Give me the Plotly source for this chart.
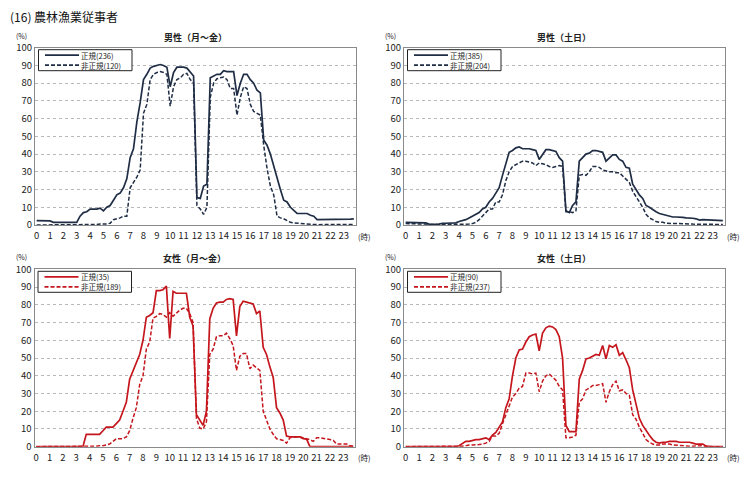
import plotly.graph_objects as go

# ---- data (15-minute steps, 96 per series) ----
hours = [h / 4 for h in range(96)]
hour_ticks = list(range(24))

m_wd_reg = [2.5,2.5,2.5,2.5, 2.3,1.5,1.5,1.5, 1.5,1.5,1.2,1.2, 1.5,5,7,7.5,
            9,9,9,9.5, 8,10,11,14, 17,18,21,26, 38,43,58,69,
            82,85,88.5,89.5, 90,90.5,90,89, 78,86,89,89, 89,88.5,86,84,
            15.5,15,22,23, 83,84,85,85, 87,86.5,86.5,86.5, 73,80,85,85,
            82,80,76,74.5, 48,45,40,33, 26,20,14,13, 10,8,6.5,6.5,
            6.5,6.5,5.5,5, 3,3,3,3, 3,3,3,3, 3,3.2,3.3,3.5]
m_wd_non = [0,0,0,0, 0,0,0,0, 0,0,0,0, 0,0,0,0,
            0,0,0.3,0.5, 0.5,0.5,1,3, 3.5,4,5,5, 21,24,27,31,
            63,68,82,85, 86,86.5,86,85, 67,78,82,83, 85,85.5,82,80,
            11,9,6,10, 72,80,82.5,83, 83.5,82,77,77, 62,72,78,77,
            68,64,63,62, 45,32,22,17, 5,4,3.5,2.5, 1.5,1.2,1,1,
            0.5,0.5,0.5,0.3, 0.2,0.3,0.3,0.3, 0.3,0.3,0.3,0.3, 0.3,0.3,0.3,0.3]
m_we_reg = [1.5,1.5,1.5,1.5, 1.5,1.5,1.2,0.5, 0.3,0.3,0.5,1, 1,1,1,1.2,
            2,2.5,3,4, 5,6,7,9, 10,13,15,18, 21,28,34,41,
            42,43.5,44,43, 43,43,42.5,42, 37,40,42.5,42.5, 42,41.5,38,36,
            8,7,11,13, 36,38,40,40.5, 42,42,41.5,41, 36,37.5,39.5,39.5,
            37,36,32.5,32, 23,20,17,15, 11,10,8.5,7.5, 6.5,6,5.5,5,
            4.5,4.5,4.5,4.3, 4,4,3.8,3.5, 2.8,3,2.9,2.8, 2.7,2.6,2.5,2.5]
m_we_non = [0.8,0.8,0.8,0.8, 0.8,0.8,0.5,0.3, 0.2,0.2,0.2,0.3, 0.3,0.3,0.3,0.4,
            0.5,0.5,0.5,0.5, 0.8,1.5,3,5, 7,9,9,13, 13,17,25,30,
            33,34,35,36, 36,35.5,35,33.5, 35,34.5,34,33, 32.5,33,33.5,33,
            7.5,7.5,7,8, 28,28.5,28,30, 33,33,32.5,31, 30.5,30,30,29.5,
            29.5,27.5,26,24, 19,16,13,10, 6,4,3,2, 1.5,1.5,1,1,
            0.8,0.8,0.8,0.8, 0.8,0.6,0.5,0.5, 0.3,0.3,0.3,0.3, 0.3,0.3,0.3,0.3]
f_wd_reg = [0,0,0,0, 0,0,0,0, 0,0,0,0, 0,0,0,7,
            7,7,7,7, 9,11,11,11, 13,15,20,25, 38,43,48,52,
            60,73,74,75.5, 88,88,88.5,90.5, 61,87.5,86.5,86.5, 86.5,86.5,73,68,
            18,15,12,20, 72,78,81,81.5, 81.5,83,83.5,83, 62.5,79,82,81.5,
            81,80.5,75,76.5, 56,52,45,39, 22,19,15,6, 5.5,5.5,5.5,5.5,
            4.5,4.3,0,0, 0,0,0,0, 0,0,0,0, 0,0,0,0]
f_wd_non = [0,0,0,0, 0,0,0,0, 0,0,0,0, 0,0,0,0,
            0,0,0.3,0.5, 0.5,1,1.5,3, 4.5,4.5,4.5,5.5, 9,16,22,35,
            40,55,59,72.5, 73.5,75,74.5,73, 75.5,73.5,75.5,77, 78,78,75,70,
            16,10.5,10,14, 52,55,62,62.5, 62.5,64,61,57, 43,51,52.5,52.5,
            44,46,44.5,43, 20,15,10,7, 4.5,4,3.5,2, 5,5.5,5.5,5.5,
            5,4.5,4,3, 5,5,4.8,4.5, 4,3.5,1.5,1.5, 1.5,1.5,0.5,0.3]
f_we_reg = [0,0,0,0, 0,0,0,0, 0,0,0,0, 0,0,0,0,
            0.5,2,3,3, 3.5,4,4,4.5, 5,4,6.5,8, 11,14,22,27,
            40,50,54.5,55, 59,62,63,63.5, 54,64,67,68, 67.5,66,62,50,
            12,8.5,8.5,8.5, 38,43,49.5,50, 51,52,51.5,57, 49.5,57,56,57.5,
            51.5,53,49,44.5, 32,23,16,12, 9,6.5,4,2.5, 2,2.5,2.5,3,
            3,3,2.5,2.5, 2.5,2.5,2,1.5, 1.5,1.5,0.3,0, 0,0,0,0]
f_we_non = [0,0,0,0, 0,0,0,0, 0,0,0,0, 0,0,0,0,
            0,0.3,0.5,1, 1,1,1.2,1.5, 2,3,6,6, 7.5,13,18,23,
            28,30,33,34, 41.5,41.5,41,41.5, 31,37,40,41, 39,37.5,34,32,
            5,5,5.5,6.5, 25,27,32,33, 34.5,34.5,35,35.5, 25,31,35,37,
            31.5,32,30,29, 18,15.5,11,7, 4,2.5,1.5,1, 1,1.5,1.5,1.5,
            1,0.8,0.5,0.4, 0.3,0.3,0.3,0.4, 0.5,0.5,0,0, 0,0,0,0]

panels = [
    dict(title="男性（月～金）", reg=m_wd_reg, non=m_wd_non, n_reg="正規(236)", n_non="非正規(120)", male=True),
    dict(title="男性（土日）", reg=m_we_reg, non=m_we_non, n_reg="正規(385)", n_non="非正規(204)", male=True),
    dict(title="女性（月～金）", reg=f_wd_reg, non=f_wd_non, n_reg="正規(35)", n_non="非正規(189)", male=False),
    dict(title="女性（土日）", reg=f_we_reg, non=f_we_non, n_reg="正規(90)", n_non="非正規(237)", male=False),
]

W, H = 750, 477
OFF = 8  # page body margin of the browser
FONT = "Noto Sans CJK JP, Noto Sans, sans-serif"
MALE_C = "#1f2d45"
FEMALE_C = "#c4161c"


def X(px):
    return (px - OFF) / W


def Y(py):
    return 1 - (py - OFF) / H


# pixel boxes on screen (left, right, top, bottom)
boxes = [(35, 355.5, 47.7, 225), (404, 724.5, 47.7, 225),
         (34.5, 355, 269.3, 446.7), (404, 724.5, 269.3, 446.7)]

fig = go.Figure()
layout = dict(width=W, height=H, margin=dict(l=0, r=0, t=0, b=0, autoexpand=False),
              paper_bgcolor="white", plot_bgcolor="white",
              font=dict(family=FONT, size=9, color="#222"), showlegend=False)
annotations = []
shapes = []

for i, p in enumerate(panels):
    k = "" if i == 0 else str(i + 1)
    xa, ya = "x" + k, "y" + k
    color = MALE_C if p["male"] else FEMALE_C
    fig.add_trace(go.Scatter(x=hours, y=p["reg"], mode="lines", name=p["n_reg"],
                             line=dict(color=color, width=1.7), xaxis=xa, yaxis=ya))
    fig.add_trace(go.Scatter(x=hours, y=p["non"], mode="lines", name=p["n_non"],
                             line=dict(color=color, width=1.5, dash="4px,2px"), xaxis=xa, yaxis=ya))
    l, r, t, b = boxes[i]
    layout["xaxis" + k] = dict(domain=[X(l), X(r)], range=[-0.125, 23.875], anchor=ya,
                               tickmode="array", tickvals=hour_ticks, ticktext=[str(h) for h in hour_ticks],
                               showgrid=False, showline=True, linecolor="#8a8a8a", linewidth=1, mirror=True,
                               ticks="", ticklabelstandoff=2, automargin=False,
                               tickfont=dict(size=9.5, color="#222"), zeroline=False, fixedrange=True)
    layout["yaxis" + k] = dict(domain=[Y(b), Y(t)], range=[0, 100], anchor=xa,
                               tickmode="array", tickvals=list(range(0, 101, 10)),
                               showgrid=True, gridcolor="#b8b8b8", griddash="dot", gridwidth=1,
                               showline=True, linecolor="#8a8a8a", linewidth=1, mirror=True,
                               ticks="", automargin=False,
                               tickfont=dict(size=9.5, color="#222"), zeroline=False, fixedrange=True)
    # legend box
    shapes.append(dict(type="rect", xref="paper", yref="paper", x0=X(l + 3.5), x1=X(l + 97),
                       y0=Y(t + 23), y1=Y(t + 2), line=dict(color="#222", width=1), fillcolor="white"))
    for j, (nm, dash) in enumerate([(p["n_reg"], "solid"), (p["n_non"], "4px,2px")]):
        yy = t + 7.5 + 10 * j
        shapes.append(dict(type="line", xref="paper", yref="paper", x0=X(l + 10), x1=X(l + 44),
                           y0=Y(yy), y1=Y(yy), line=dict(color=color, width=1.7, dash=dash)))
        annotations.append(dict(text=nm, x=X(l + 45), y=Y(yy), xref="paper", yref="paper",
                                showarrow=False, xanchor="left", yanchor="middle", borderpad=0,
                                font=dict(size=7.5, color="#222")))
    # panel title
    annotations.append(dict(text="<b>" + p["title"] + "</b>", x=X((l + r) / 2), y=Y(t - 10.4),
                            xref="paper", yref="paper", showarrow=False, xanchor="center", yanchor="middle",
                            font=dict(size=9, color="#222")))
    annotations.append(dict(text="(%)", x=X(l - 13.5), y=Y(t - 12), xref="paper", yref="paper",
                            showarrow=False, xanchor="center", yanchor="middle", font=dict(size=7, color="#222")))
    annotations.append(dict(text="(時)", x=X(r + 0.5), y=Y(b + 11), xref="paper", yref="paper",
                            showarrow=False, xanchor="left", yanchor="middle", font=dict(size=7.5, color="#222")))

annotations.append(dict(text="(16) 農林漁業従事者", x=X(9), y=Y(16.5), xref="paper", yref="paper",
                        showarrow=False, xanchor="left", yanchor="middle", borderpad=0,
                        font=dict(size=12, color="#111")))
layout["annotations"] = annotations
layout["shapes"] = shapes
fig.update_layout(**layout)
fig.write_html("out.html")
